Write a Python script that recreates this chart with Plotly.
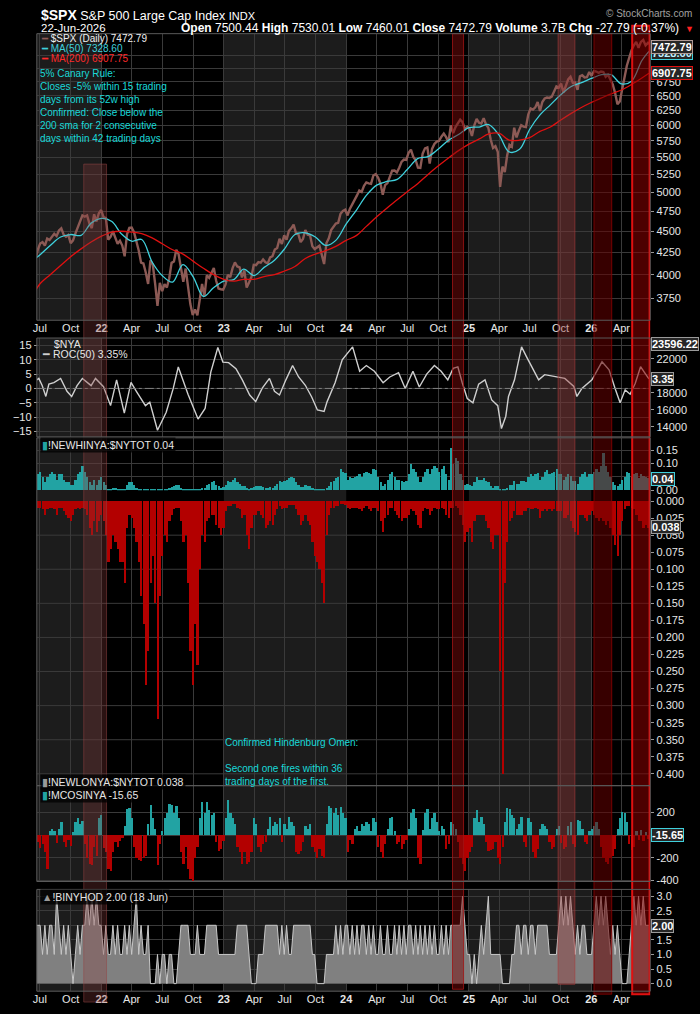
import math
import pandas as pd
import plotly.graph_objects as go

W, H = 700, 1014
X0, X1 = 33, 650


def yp(p):
    return 1 - p / H


def xp(p):
    return p / W


FONT = 'Liberation Sans'
GRID = '#3a3a3a'
GRAYBG = '#1c1c1c'
TEAL = '#22a3a3'
DKRED = '#b30000'

# ---------------- data (weekly, Friday) ----------------
week_start = '2021-06-18'
last_day = '2026-06-22'

spx_close = [
    4166, 4281, 4352, 4370, 4327, 4411, 4395, 4437, 4468, 4442, 4509, 4535, 4459, 4433, 4455,
    4357, 4391, 4471, 4545, 4605, 4697, 4683, 4698, 4595, 4538, 4712, 4620, 4725, 4766,
    # 2022
    4677, 4663, 4398, 4432, 4500, 4419, 4349, 4385, 4329, 4204, 4463, 4543, 4546, 4488, 4392, 4272, 4132,
    4123, 4024, 3901, 4158, 4109, 3901, 3675, 3912, 3825, 3899, 3863, 3962, 4130, 4145, 4280, 4228, 4058,
    3924, 4067, 3873, 3693, 3586, 3640, 3583, 3753, 3901, 3771, 3993, 3965, 4026, 4072, 3934, 3852, 3845, 3840,
    # 2023
    3895, 3999, 3973, 4071, 4136, 4090, 4079, 3970, 4046, 3862, 3917, 3971, 4109, 4105, 4138, 4133, 4169,
    4136, 4124, 4192, 4205, 4282, 4299, 4410, 4348, 4450, 4399, 4505, 4536, 4582, 4478, 4464, 4370, 4406,
    4516, 4457, 4450, 4320, 4288, 4309, 4327, 4224, 4117, 4358, 4415, 4514, 4559, 4595, 4604, 4719, 4755, 4770,
    # 2024
    4697, 4784, 4840, 4891, 4959, 5027, 5006, 5089, 5137, 5124, 5117, 5234, 5254, 5204, 5123, 4967, 5100,
    5128, 5223, 5303, 5305, 5278, 5347, 5432, 5465, 5460, 5567, 5615, 5505, 5459, 5347, 5344, 5554, 5634, 5648,
    5408, 5626, 5703, 5738, 5751, 5815, 5865, 5808, 5729, 5996, 5871, 5969, 6032, 6090, 6051, 5931, 5971,
    # 2025
    5942, 5827, 5997, 6101, 6041, 6026, 6115, 6013, 5955, 5770, 5639, 5667, 5581, 5074, 5363, 5283, 5525,
    5687, 5660, 5958, 5803, 5912, 6000, 5977, 5968, 6173, 6279, 6260, 6297, 6389, 6238, 6389, 6450, 6467, 6460,
    6482, 6584, 6664, 6644, 6716, 6553, 6664, 6792, 6840, 6729, 6734, 6603, 6849, 6870, 6830, 6835, 6930,
    # 2026
    6860, 6950, 6940, 6915, 6940, 6930, 6840, 6880, 6780, 6700, 6550, 6350, 6400, 6600, 6850, 7050, 7200,
    7350, 7450, 7520, 7400, 7520, 7560, 7450, 7500, 7472.79,
]

ma_start = '2021-06-18'
ma50 = [
    4180, 4220, 4330, 4430, 4460, 4450, 4600,
    4660, 4620, 4470, 4380, 4400, 4140, 3990, 3920, 4110, 3980, 3770, 3860,
    3930, 3950, 4060, 3990, 4080, 4160, 4290, 4460, 4480, 4430, 4330, 4390,
    4590, 4770, 4960, 5100, 5150, 5180, 5320, 5480, 5510, 5620, 5760, 5850,
    5960, 5970, 6010, 5840, 5580, 5620, 5930, 6170, 6340, 6510, 6660, 6730,
    6810, 6880, 6880, 6710, 6760, 7150, 7328.60,
]
ma200 = [
    3830, 3900, 4000, 4100, 4200, 4290, 4370,
    4440, 4490, 4500, 4490, 4470, 4420, 4350, 4280, 4230, 4150, 4070, 4000,
    3950, 3930, 3950, 3950, 3980, 4000, 4040, 4090, 4180, 4230, 4270, 4320,
    4390, 4450, 4560, 4680, 4790, 4900, 5010, 5120, 5250, 5370, 5490, 5600,
    5700, 5780, 5860, 5870, 5760, 5760, 5800, 5900, 5970, 6080, 6190, 6290,
    6380, 6460, 6530, 6600, 6700, 6820, 6907.75,
]

roc_dates = [
    '2021-06-22', '2021-06-28', '2021-07-08', '2021-07-19', '2021-07-28', '2021-08-12', '2021-09-01',
    '2021-09-20', '2021-10-04', '2021-10-20', '2021-11-05', '2021-11-19', '2021-12-01', '2021-12-14',
    '2021-12-28', '2022-01-07', '2022-01-28', '2022-02-15', '2022-03-10', '2022-03-30', '2022-04-15',
    '2022-05-12', '2022-05-25', '2022-06-17', '2022-07-13', '2022-08-03', '2022-08-18', '2022-09-01',
    '2022-09-16', '2022-10-16', '2022-11-06', '2022-11-23', '2022-12-14', '2022-12-29', '2023-01-15',
    '2023-02-06', '2023-02-25', '2023-03-19', '2023-04-06', '2023-04-25', '2023-05-17', '2023-06-01',
    '2023-06-16', '2023-07-05', '2023-07-25', '2023-08-12', '2023-09-01', '2023-09-20', '2023-10-07',
    '2023-10-27', '2023-11-05', '2023-11-29', '2023-12-20', '2024-01-20', '2024-02-10', '2024-03-01',
    '2024-03-25', '2024-04-20', '2024-05-10', '2024-06-05', '2024-06-25', '2024-07-18', '2024-08-06',
    '2024-08-28', '2024-09-20', '2024-10-10', '2024-10-30', '2024-11-15', '2024-11-29', '2024-12-12',
    '2024-12-27', '2025-01-13', '2025-01-30', '2025-02-18', '2025-03-10', '2025-03-28', '2025-04-08',
    '2025-04-21', '2025-04-29', '2025-05-17', '2025-06-07', '2025-06-22', '2025-07-07', '2025-07-28',
    '2025-08-15', '2025-09-14', '2025-10-14', '2025-11-10', '2025-11-19', '2025-12-04', '2026-01-03',
    '2026-02-02', '2026-02-23', '2026-03-13', '2026-03-28', '2026-04-12', '2026-04-27', '2026-05-12',
    '2026-05-28', '2026-06-11', '2026-06-22',
]
roc_vals = [
    3.0, 3.5, 1.0, -2.8, 1.5, 2.0, 3.5,
    -1.0, -2.8, 1.0, 3.5, 2.0, 1.0, 3.5,
    2.0, 0.6, -6.0, 3.0, -8.6, 2.1, -1.0,
    -6.0, -4.8, -14.6, -8.3, 0.0, 7.5, 3.0,
    -2.0, -10.7, -7.0, 5.7, 14.3, 9.2, 9.0,
    6.9, 3.0, -2.3, -4.6, 0.0, 3.5, -1.0,
    -2.3, 3.0, 8.0, 4.0, 1.1, -3.0, -7.5,
    -8.0, -4.6, 2.1, 10.0, 14.5, 6.0, 8.0,
    6.0, 2.0, 4.0, 5.5, 0.0, 6.0, 0.5,
    5.0, 8.0, 6.0, 3.0, 7.0, 7.5, 2.0,
    -3.5, -5.0, 1.5, 3.0, -4.0, -6.0, -14.0,
    -9.7, -2.8, 3.0, 14.5, 11.0, 7.6, 3.0,
    4.8, 4.1, 3.5, 0.7, -2.8, 0.0, 3.0,
    9.3, 6.5, 0.0, -5.0, -0.5, -2.0, 1.7,
    7.6, 5.2, 3.35,
]

new_hi = [
    0.05, 0.06, 0.07, 0.05, 0.03, 0.05, 0.06, 0.07, 0.06, 0.04, 0.06, 0.06, 0.04, 0.03, 0.03,
    0.02, 0.02, 0.04, 0.06, 0.07, 0.09, 0.07, 0.05, 0.03, 0.02, 0.04, 0.02, 0.04, 0.05,
    # 2022
    0.03, 0.02, 0.005, 0.005, 0.01, 0.01, 0.005, 0.005, 0.005, 0.005, 0.02, 0.03, 0.03, 0.02, 0.01, 0.005, 0.005,
    0.003, 0.002, 0.002, 0.005, 0.005, 0.003, 0.002, 0.003, 0.003, 0.005, 0.005, 0.008, 0.012, 0.015, 0.02, 0.02, 0.01,
    0.005, 0.006, 0.004, 0.002, 0.002, 0.002, 0.002, 0.005, 0.01, 0.01, 0.02, 0.025, 0.03, 0.035, 0.02, 0.015, 0.01, 0.012,
    # 2023
    0.02, 0.035, 0.03, 0.04, 0.045, 0.03, 0.025, 0.015, 0.015, 0.01, 0.006, 0.008, 0.012, 0.015, 0.018, 0.015, 0.012,
    0.01, 0.01, 0.012, 0.01, 0.015, 0.025, 0.035, 0.03, 0.035, 0.04, 0.045, 0.05, 0.045, 0.03, 0.02, 0.012, 0.012,
    0.02, 0.015, 0.015, 0.01, 0.006, 0.004, 0.005, 0.004, 0.003, 0.01, 0.015, 0.03, 0.035, 0.045, 0.05, 0.08, 0.07, 0.065,
    # 2024
    0.04, 0.05, 0.045, 0.05, 0.055, 0.06, 0.05, 0.065, 0.07, 0.065, 0.06, 0.08, 0.075, 0.05, 0.03, 0.015, 0.025,
    0.04, 0.06, 0.07, 0.05, 0.04, 0.04, 0.035, 0.03, 0.035, 0.06, 0.1, 0.08, 0.07, 0.05, 0.03, 0.05, 0.07, 0.08,
    0.06, 0.08, 0.09, 0.085, 0.07, 0.08, 0.09, 0.06, 0.04, 0.16, 0.1, 0.12, 0.11, 0.06, 0.04, 0.02, 0.025,
    # 2025
    0.02, 0.015, 0.03, 0.05, 0.04, 0.04, 0.045, 0.035, 0.03, 0.015, 0.01, 0.015, 0.015, 0.005, 0.004, 0.006, 0.01,
    0.02, 0.02, 0.035, 0.025, 0.025, 0.035, 0.035, 0.03, 0.05, 0.06, 0.055, 0.06, 0.065, 0.04, 0.05, 0.07, 0.075, 0.06,
    0.065, 0.07, 0.08, 0.06, 0.06, 0.04, 0.05, 0.06, 0.055, 0.035, 0.035, 0.025, 0.05, 0.06, 0.07, 0.05, 0.06,
    # 2026
    0.06, 0.07, 0.08, 0.07, 0.09, 0.14, 0.09, 0.07, 0.05, 0.03, 0.02, 0.015, 0.025, 0.04, 0.05, 0.07, 0.065,
    0.05, 0.06, 0.065, 0.045, 0.06, 0.055, 0.05, 0.045, 0.04,
]

new_lo = [
    0.015, 0.01, 0.01, 0.012, 0.02, 0.012, 0.01, 0.01, 0.012, 0.02, 0.01, 0.01, 0.015, 0.02, 0.025,
    0.03, 0.02, 0.012, 0.01, 0.012, 0.01, 0.012, 0.02, 0.04, 0.05, 0.03, 0.045, 0.03, 0.02,
    # 2022
    0.03, 0.05, 0.09, 0.07, 0.05, 0.06, 0.07, 0.09, 0.09, 0.12, 0.04, 0.02, 0.025, 0.04, 0.06, 0.09, 0.14,
    0.18, 0.27, 0.22, 0.12, 0.08, 0.15, 0.32, 0.14, 0.08, 0.05, 0.06, 0.03, 0.02, 0.012, 0.01, 0.01, 0.03,
    0.06, 0.05, 0.12, 0.22, 0.27, 0.18, 0.24, 0.10, 0.05, 0.06, 0.03, 0.025, 0.02, 0.02, 0.035, 0.04, 0.05, 0.04,
    # 2023
    0.015, 0.008, 0.008, 0.005, 0.005, 0.01, 0.012, 0.025, 0.02, 0.05, 0.07, 0.04, 0.02, 0.02, 0.015, 0.02, 0.025,
    0.04, 0.035, 0.03, 0.035, 0.02, 0.012, 0.008, 0.012, 0.01, 0.01, 0.006, 0.006, 0.006, 0.012, 0.02, 0.035, 0.03,
    0.02, 0.03, 0.035, 0.06, 0.08, 0.09, 0.1, 0.12, 0.15, 0.05, 0.02, 0.01, 0.01, 0.008, 0.008, 0.005, 0.005, 0.006,
    # 2024
    0.01, 0.012, 0.01, 0.01, 0.01, 0.012, 0.015, 0.01, 0.008, 0.012, 0.015, 0.01, 0.01, 0.015, 0.03, 0.045, 0.025,
    0.02, 0.01, 0.01, 0.015, 0.02, 0.025, 0.03, 0.025, 0.025, 0.02, 0.012, 0.015, 0.02, 0.035, 0.04, 0.015, 0.01, 0.012,
    0.02, 0.015, 0.01, 0.012, 0.012, 0.01, 0.012, 0.02, 0.025, 0.01, 0.01, 0.008, 0.01, 0.02, 0.035, 0.06, 0.045,
    # 2025
    0.04, 0.06, 0.03, 0.02, 0.02, 0.02, 0.02, 0.03, 0.04, 0.06, 0.07, 0.05, 0.05, 0.25, 0.40, 0.12, 0.06,
    0.03, 0.025, 0.015, 0.02, 0.02, 0.02, 0.015, 0.015, 0.01, 0.012, 0.012, 0.01, 0.012, 0.025, 0.015, 0.012, 0.015, 0.012,
    0.015, 0.012, 0.015, 0.015, 0.015, 0.025, 0.025, 0.02, 0.03, 0.04, 0.045, 0.05, 0.02, 0.02, 0.025, 0.03, 0.02,
    # 2026
    0.015, 0.02, 0.025, 0.03, 0.025, 0.03, 0.035, 0.03, 0.04, 0.05, 0.065, 0.08, 0.05, 0.03, 0.012, 0.008, 0.008,
    0.01, 0.012, 0.02, 0.03, 0.03, 0.04, 0.035, 0.04, 0.038,
]

mco = [
    20, -60, -110, -80, -150, -300, 40, 60, 40, -70, 60, 120, -60, -100, -40,
    -90, 30, 120, 150, 100, 130, -80, -200, -250, -260, -100, -180, 150, 180,
    # 2022
    -110, -150, -300, -313, -150, -60, -100, -50, -20, 80, 230, 240, 150, -100, -200, -220, -226,
    -200, -180, 100, 267, 150, 60, -260, -80, 40, 150, 200, 280, 270, 200, 260, 150, -150,
    -250, -100, -300, -380, -400, -200, -100, 150, 290, 200, 296, 220, 180, 200, -60, -139, -120, -50,
    # 2023
    150, 310, 200, 150, 100, -100, -150, -250, -150, -255, -230, -150, 150, 100, -100, -150, -80,
    -60, 60, 165, 80, 120, 100, 150, -60, 100, 60, 160, 120, 80, -150, -168, -140, -60,
    80, 60, 100, -100, -150, -197, -120, -180, -197, 100, 260, 240, 200, 240, 180, 250, 200, 150,
    # 2024
    -150, -40, -80, 60, 80, 40, 100, 80, 120, 100, 40, 150, 120, -100, -150, -200, -80,
    60, 150, 160, 40, -80, -60, -120, -80, -40, 60, 200, 230, 150, -200, -250, 50, 200, 230,
    60, 150, 200, 120, 40, 80, 60, -120, -80, 120, 100, 60, -60, -200, -250, -313, -200,
    # 2025
    -150, -100, 150, 223, 120, 160, 100, -60, -139, -130, -120, -60, -200, -255, -100, 120, 238,
    230, 180, 150, 60, 100, 160, -60, -100, 150, 120, -150, -200, -120, 60, 100, 80, 60, -60,
    -120, -100, 60, 80, -70, -120, -100, 80, 120, -80, -100, 140, 130, 60, -60, -80, 40,
    # 2026
    60, 80, 120, 60, -100, -200, -230, -255, -200, -180, -120, 60, 150, 209, 200, 120, -80,
    -125, -100, 40, -40, 50, -50, 30, -30, -15.65,
]

binyhod = [
    2, 2, 2, 1, 2, 1, 2, 2, 1, 3, 2, 1, 2, 1, 2,
    1, 0, 1, 2, 1, 2, 2, 3, 2, 3, 2, 3, 2, 2,
    # 2022
    1, 2, 1, 1, 2, 1, 2, 1, 1, 2, 1, 2, 1, 2, 3, 1, 2,
    1, 1, 2, 0, 0, 0, 1, 0, 1, 1, 0, 1, 1, 0, 0, 1, 2,
    2, 2, 2, 1, 1, 1, 2, 1, 1, 1, 2, 2, 2, 2, 2, 1, 1, 1,
    # 2023
    1, 1, 1, 1, 1, 2, 2, 2, 2, 2, 1, 0, 0, 0, 1, 1, 1,
    2, 2, 2, 2, 2, 2, 1, 2, 1, 2, 1, 1, 2, 2, 2, 2, 2,
    2, 2, 2, 1, 1, 0, 0, 0, 0, 1, 1, 1, 1, 2, 1, 2, 1, 2,
    # 2024
    2, 1, 2, 1, 2, 1, 2, 2, 1, 2, 1, 2, 1, 1, 2, 1, 1,
    2, 1, 1, 2, 1, 2, 1, 2, 1, 2, 2, 1, 2, 1, 2, 1, 2, 1,
    2, 1, 2, 1, 1, 2, 1, 2, 1, 2, 2, 2, 2, 2, 3, 2, 1,
    # 2025
    1, 0, 1, 0, 1, 2, 1, 2, 3, 1, 1, 1, 1, 1, 0, 0, 0,
    0, 1, 1, 2, 2, 1, 2, 2, 1, 2, 2, 1, 2, 2, 2, 2, 2, 1,
    1, 1, 1, 2, 3, 2, 3, 2, 3, 2, 1, 2, 1, 2, 2, 1, 1,
    # 2026
    1, 2, 3, 2, 3, 2, 3, 2, 1, 2, 1, 2, 1, 0, 0, 0, 1,
    2, 3, 2, 3, 2, 3, 2, 2, 2,
]

# signal zones (start, end) drawn as shaded bands
zone_start = ['2021-11-09', '2024-11-13', '2025-09-24', '2026-01-09', '2026-05-03']
zone_end = ['2022-01-16', '2024-12-16', '2025-11-13', '2026-03-03', '2026-06-24']

# ---------------- dates ----------------
fridays = list(pd.date_range(week_start, periods=262, freq='W-FRI'))
wk_dates = fridays + [pd.Timestamp(last_day)]
ma_dates = [pd.Timestamp(ma_start)] + list(pd.date_range('2021-07-01', '2026-06-01', freq='MS')) + [pd.Timestamp(last_day)]


def cut(d, v):
    n = min(len(d), len(v))
    return d[:n], v[:n]


DAY = 86400000
bar_w = [6.6 * DAY] * 262 + [2.5 * DAY]

x_range = ['2021-06-22', '2026-06-26']
q_vals = list(pd.date_range('2021-07-01', '2026-04-01', freq='QS-JAN'))
q_text = []
for d in q_vals:
    if d.month == 1:
        q_text.append('<b>%02d</b>' % (d.year % 100))
    else:
        q_text.append(d.strftime('%b'))

fig = go.Figure()

# Panel 1: SPX
d, v = cut(wk_dates, spx_close)
fig.add_trace(go.Scatter(x=d, y=v, mode='lines', line=dict(color='#8c5a55', width=2.4),
                         xaxis='x', yaxis='y', name='$SPX'))
d, v = cut(ma_dates, ma50)
fig.add_trace(go.Scatter(x=d, y=v, mode='lines', line=dict(color='#3fd0dc', width=1.3, shape='spline'),
                         xaxis='x', yaxis='y', name='MA(50)'))
d, v = cut(ma_dates, ma200)
fig.add_trace(go.Scatter(x=d, y=v, mode='lines', line=dict(color='#e01010', width=1.3, shape='spline'),
                         xaxis='x', yaxis='y', name='MA(200)'))

# Panel 2: ROC
fig.add_trace(go.Scatter(x=pd.to_datetime(roc_dates), y=roc_vals, mode='lines',
                         line=dict(color='#cfcfcf', width=1.4), xaxis='x2', yaxis='y2', name='ROC'))
fig.add_trace(go.Scatter(x=[], y=[], xaxis='x2', yaxis='y3', showlegend=False))

# Panel 3: new highs / new lows
d, v = cut(wk_dates, new_hi)
fig.add_trace(go.Bar(x=d, y=v, width=bar_w[:len(d)], marker=dict(color=TEAL, line=dict(width=0)),
                     xaxis='x3', yaxis='y4', name='NEWHI'))
d, v = cut(wk_dates, new_lo)
fig.add_trace(go.Bar(x=d, y=v, width=bar_w[:len(d)], marker=dict(color=DKRED, line=dict(width=0)),
                     xaxis='x4', yaxis='y5', name='NEWLO'))

# Panel 4: MCO
d, v = cut(wk_dates, mco)
fig.add_trace(go.Bar(x=d, y=v, width=bar_w[:len(d)],
                     marker=dict(color=[TEAL if val >= 0 else DKRED for val in v], line=dict(width=0)),
                     xaxis='x5', yaxis='y6', name='MCO'))

# Panel 5: BINYHOD
d, v = cut(wk_dates, binyhod)
fig.add_trace(go.Scatter(x=d, y=v, mode='lines', line=dict(color='#c8c8c8', width=1),
                         fill='tozeroy', fillcolor='rgb(128,128,128)', xaxis='x6', yaxis='y7', name='BINYHOD'))

tickfont = dict(family=FONT, size=11, color='#e6e6e6')
xdom = [xp(X0), xp(X1)]


def xax(anchor, labels):
    return dict(type='date', domain=xdom, anchor=anchor, range=x_range, tickmode='array',
                tickvals=q_vals, ticktext=q_text, showticklabels=labels, showgrid=True,
                gridcolor=GRID, gridwidth=1, zeroline=False, showline=False, ticks='',
                tickfont=tickfont, fixedrange=True)


def yax(top, bot, **kw):
    base = dict(domain=[yp(bot), yp(top)], side='right', showgrid=True, gridcolor=GRID, gridwidth=1,
                zeroline=False, showline=False, ticks='outside', ticklen=3, tickcolor='#999',
                tickfont=tickfont, anchor='free', position=xp(X1), fixedrange=True)
    base.update(kw)
    return base


spx_ticks = list(range(3750, 7251, 250))
spx_text = ['' if t in (7000, 7250) else str(t) for t in spx_ticks]
lo_ticks = [i * 0.025 for i in range(17)]

layout = dict(
    width=W, height=H, margin=dict(l=0, r=0, t=0, b=0),
    paper_bgcolor='black', plot_bgcolor='rgba(0,0,0,0)', showlegend=False, bargap=0,
    font=dict(family=FONT, color='#e6e6e6'),
    xaxis=xax('y', True), xaxis2=xax('y2', False), xaxis3=xax('y4', False),
    xaxis4=xax('y5', False), xaxis5=xax('y6', False), xaxis6=xax('y7', True),
    yaxis=yax(28, 318, type='log', range=[math.log10(3535), math.log10(7690)],
              tickvals=spx_ticks, ticktext=spx_text),
    yaxis2=yax(336, 436, side='left', position=xp(X0), range=[-16.9, 17.6],
               tickvals=[-15, -10, -5, 0, 5, 10, 15], showgrid=True),
    yaxis3=yax(336, 436, overlaying='y2', range=[12841, 24434],
               tickvals=[14000, 16000, 18000, 20000, 22000],
               ticktext=['14000', '16000', '18000', '', '22000'], showgrid=False),
    yaxis4=yax(437, 490, range=[0, 0.1963], tickvals=[0, 0.05, 0.10, 0.15],
               ticktext=['0.00', '', '0.10', '0.15']),
    yaxis5=yax(501, 789, range=[0.4174, 0], tickvals=lo_ticks,
               ticktext=['%.3f' % t for t in lo_ticks], showgrid=False),
    yaxis6=yax(789, 886, range=[-409, 435], tickvals=[-400, -200, 0, 200],
               ticktext=['-400', '-200', '', '200']),
    yaxis7=yax(894, 997, range=[-0.26, 3.23], tickvals=[0, 0.5, 1, 1.5, 2, 2.5, 3],
               ticktext=['0.0', '0.5', '1.0', '1.5', '', '2.5', '3.0']),
)
fig.update_layout(**layout)

# ---------------- shapes ----------------
shapes = []
panels = [(28, 318), (336, 436), (437, 789), (789, 886), (894, 997)]
gray_years = [('2021-06-01', '2022-01-01'), ('2023-01-01', '2024-01-01'), ('2025-01-01', '2026-01-01')]
for top, bot in panels:
    for a, b in gray_years:
        shapes.append(dict(type='rect', xref='x', yref='paper', x0=a, x1=b, y0=yp(bot), y1=yp(top),
                           fillcolor=GRAYBG, line=dict(width=0), layer='below'))
# grid lines of the new-lows scale (every 0.05)
for i in range(1, 9):
    shapes.append(dict(type='line', xref='paper', yref='y5', x0=xp(X0), x1=xp(X1), y0=i * 0.05, y1=i * 0.05,
                       line=dict(color=GRID, width=1), layer='below'))
# ROC zero line
shapes.append(dict(type='line', xref='paper', yref='y2', x0=xp(X0), x1=xp(X1), y0=0, y1=0,
                   line=dict(color='#808080', width=1, dash='dashdot'), layer='above'))
# signal zones
zone_style = [
    (160, 1008, 'rgba(140,60,60,0.30)', 'rgba(150,70,70,0.5)', 1),
    (28, 995, 'rgba(120,10,10,0.5)', 'rgba(160,20,20,0.8)', 1),
    (28, 990, 'rgba(150,50,50,0.38)', 'rgba(170,60,60,0.6)', 1),
    (28, 1000, 'rgba(100,0,0,0.55)', 'rgba(140,0,0,0.8)', 1),
    (20, 1000, 'rgba(140,0,0,0.55)', '#e01010', 2),
]
for (a, b), (t, bt, fc, lc, lw) in zip(zip(zone_start, zone_end), zone_style):
    shapes.append(dict(type='rect', xref='x', yref='paper', x0=a, x1=b, y0=yp(bt), y1=yp(t),
                       fillcolor=fc, line=dict(color=lc, width=lw), layer='above'))
# panel borders
for top, bot in panels:
    shapes.append(dict(type='rect', xref='paper', yref='paper', x0=xp(X0), x1=xp(X1), y0=yp(bot), y1=yp(top),
                       line=dict(color='#5a5a5a', width=1), fillcolor='rgba(0,0,0,0)', layer='above'))
fig.update_layout(shapes=shapes)

# ---------------- annotations ----------------
ann = []


def txt(x, y, s, size=11, color='#e6e6e6', anchor='left', yanchor='middle', bg=None, family=FONT):
    d = dict(xref='paper', yref='paper', x=xp(x), y=yp(y), text=s, showarrow=False,
             xanchor=anchor, yanchor=yanchor, align='left', font=dict(family=family, size=size, color=color))
    if bg:
        d['bgcolor'] = bg
    ann.append(d)


txt(35, 9, "<b style='font-size:14px'>$SPX</b> S&P 500 Large Cap Index <span style='font-size:11px'>INDX</span>",
    size=12.5, color='white')
txt(35, 22, '22-Jun-2026', size=11.5, color='white')
txt(681, 22, '<b>Open</b> 7500.44 <b>High</b> 7530.01 <b>Low</b> 7460.01 <b>Close</b> 7472.79 '
             '<b>Volume</b> 3.7B <b>Chg</b> -27.79 (-0.37%)', size=12, color='white', anchor='right')
txt(683, 23, '▼', size=9, color='#ff2020')
txt(694, 8, '© StockCharts.com', size=10, color='#a0a0a0', anchor='right')

txt(35, 33, "<span style='color:#8c5a55'>━</span> $SPX (Daily) 7472.79", size=10, color='#f0f0f0')
txt(35, 43, "━ MA(50) 7328.60", size=10, color='#3fd0dc')
txt(35, 53, "━ MA(200) 6907.75", size=10, color='#ff2a2a')
txt(34, 61, '5% Canary Rule:<br>Closes -5% within 15 trading<br>days from its 52w high<br>'
            'Confirmed: Close below the<br>200 sma for 2 consecutive<br>days within 42 trading days',
    size=10, color='#19d9d9', yanchor='top')

txt(48, 342, '$NYA', size=10.5)
txt(36, 352, "<span style='color:#cfcfcf'>━</span> ROC(50) 3.35%", size=10.5)

txt(36, 444, "<span style='color:#22a3a3'>▮</span>!NEWHINYA:$NYTOT 0.04", size=10.5, bg='rgba(0,0,0,0.75)')
txt(36, 785, "<span style='color:#999'>▮</span>!NEWLONYA:$NYTOT 0.038", size=10.5, bg='rgba(0,0,0,0.75)')
txt(36, 798, "<span style='color:#22a3a3'>▮</span>!MCOSINYA -15.65", size=10.5, bg='rgba(0,0,0,0.75)')
txt(36, 902, "<span style='color:#999'>▲</span>!BINYHOD 2.00 (18 Jun)", size=10.5, bg='rgba(0,0,0,0.75)')

txt(220, 737.5, 'Confirmed Hindenburg Omen:<br> <br>Second one fires within 36<br>trading days of the first.',
    size=10, color='#19d9d9', yanchor='top')


def box(y, s, border, color='white'):
    ann.append(dict(xref='paper', yref='paper', x=xp(651), y=yp(y), text='<b>%s</b>' % s, showarrow=False,
                    xanchor='left', yanchor='middle', font=dict(family=FONT, size=11, color=color),
                    bgcolor='#262626', bordercolor=border, borderwidth=1, borderpad=0, height=12))


box(48, '7328.60', '#3fd0dc', '#bfefff')
box(41, '7472.79', '#b09a95')
box(68, '6907.75', '#e01010')
box(342, '23596.22', '#9a9a9a')
box(377, '3.35', '#9a9a9a')
box(479, '0.04', '#3fd0dc')
box(527, '0.038', '#9a9a9a')
box(839, '-15.65', '#3fd0dc')
box(931, '2.00', '#9a9a9a')

fig.update_layout(annotations=ann)
fig.write_html('out.html')
